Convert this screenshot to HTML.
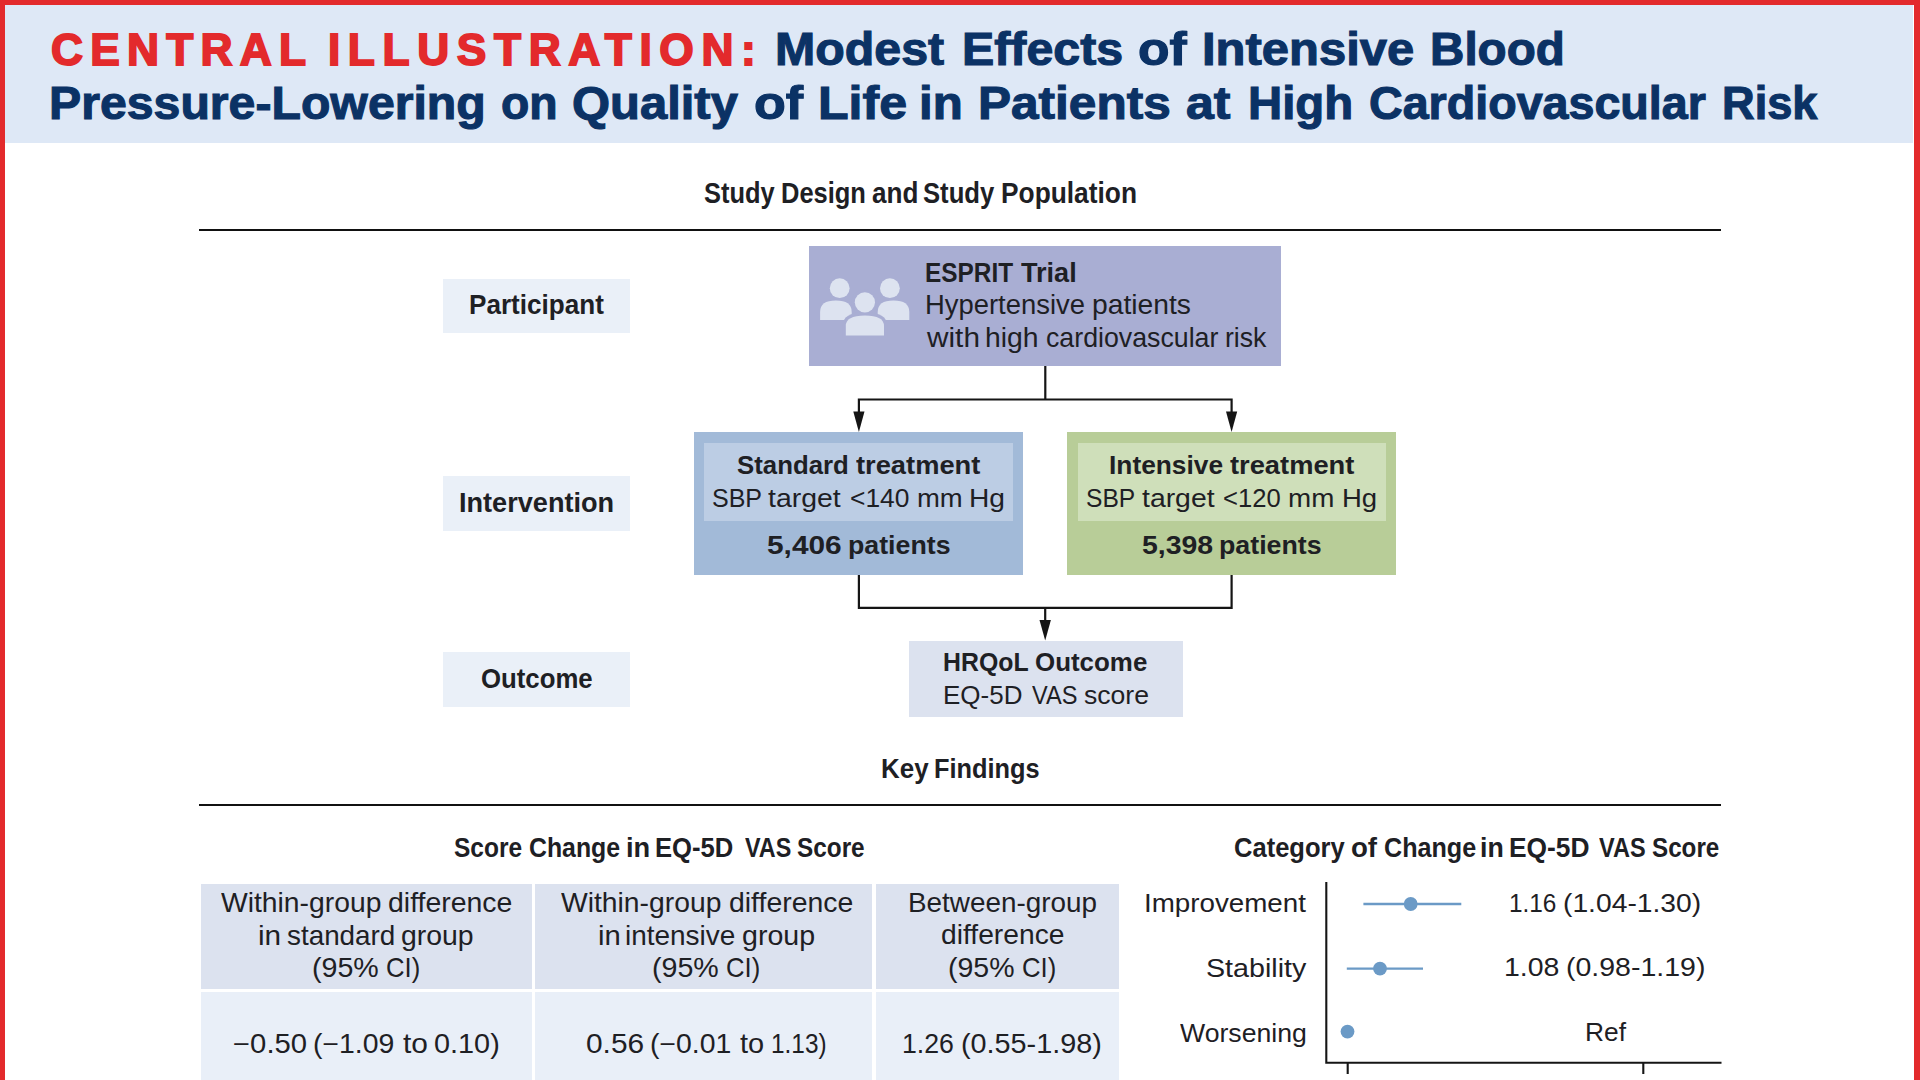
<!DOCTYPE html>
<html><head><meta charset="utf-8"><title>Central Illustration</title>
<style>
html,body{margin:0;padding:0;width:1920px;height:1080px;overflow:hidden;background:#fff}
body{position:relative;font-family:"Liberation Sans",sans-serif}
.t{position:absolute;line-height:1;white-space:nowrap;transform-origin:0 0}
</style></head><body>
<div style="position:absolute;left:0px;top:0px;width:1920px;height:1080px;background:#e32a2c;"></div>
<div style="position:absolute;left:5px;top:5px;width:1909px;height:1075px;background:#ffffff;"></div>
<div style="position:absolute;left:5px;top:5px;width:1908px;height:138px;background:#dee8f6;"></div>
<div style="position:absolute;left:199px;top:229px;width:1522px;height:2px;background:#111111;"></div>
<div style="position:absolute;left:199px;top:804px;width:1522px;height:2px;background:#111111;"></div>
<div style="position:absolute;left:443px;top:279px;width:187px;height:54px;background:#eaf0f8;"></div>
<div style="position:absolute;left:443px;top:476px;width:187px;height:55px;background:#eaf0f8;"></div>
<div style="position:absolute;left:443px;top:651.5px;width:187px;height:55.0px;background:#eaf0f8;"></div>
<div style="position:absolute;left:809px;top:246px;width:472px;height:120px;background:#a9aed3;"></div>
<div style="position:absolute;left:694px;top:432px;width:329px;height:143px;background:#a2bad8;"></div>
<div style="position:absolute;left:704px;top:443px;width:309px;height:78px;background:#bccde4;"></div>
<div style="position:absolute;left:1067px;top:432px;width:329px;height:143px;background:#b8cd98;"></div>
<div style="position:absolute;left:1078px;top:443px;width:308px;height:78px;background:#cfdfba;"></div>
<div style="position:absolute;left:908.5px;top:641px;width:274.0px;height:76px;background:#dce2ef;"></div>
<div style="position:absolute;left:200.5px;top:883.5px;width:331.0px;height:105.0px;background:#dce2ef;"></div>
<div style="position:absolute;left:534.5px;top:883.5px;width:337.5px;height:105.0px;background:#dce2ef;"></div>
<div style="position:absolute;left:875.5px;top:883.5px;width:243.5px;height:105.0px;background:#dce2ef;"></div>
<div style="position:absolute;left:200.5px;top:991.5px;width:331.0px;height:88.5px;background:#e9eff8;"></div>
<div style="position:absolute;left:534.5px;top:991.5px;width:337.5px;height:88.5px;background:#e9eff8;"></div>
<div style="position:absolute;left:875.5px;top:991.5px;width:243.5px;height:88.5px;background:#e9eff8;"></div>
<svg style="position:absolute;left:0;top:0" width="1920" height="1080" viewBox="0 0 1920 1080">
<g stroke="#151515" stroke-width="2.2" fill="none">
<path d="M1045.3 366 V399.5 M858 399.5 H1232.5 M858.9 398.4 V413 M1231.6 398.4 V413"/>
<path d="M858.9 575 V608 M1231.6 575 V608 M857.8 607.9 H1232.7 M1045.2 607 V621"/>
</g>
<g fill="#151515">
<path d="M853.3 411.4 L864.5 411.4 L858.9 432 Z"/>
<path d="M1226 411.4 L1237.2 411.4 L1231.6 432 Z"/>
<path d="M1039.5 620 L1050.9 620 L1045.2 640.6 Z"/>
</g>
<g fill="#dde3f0">
<circle cx="839.7" cy="288.2" r="9.9"/>
<circle cx="889.9" cy="288.2" r="9.9"/>
<path d="M820.1 320 V312 Q820.1 300.6 835.9 300.6 Q851.7 300.6 851.7 312 V320 Z"/>
<path d="M877.7 320 V312 Q877.7 300.6 893.5 300.6 Q909.3 300.6 909.3 312 V320 Z"/>
</g>
<g fill="#a9aed3">
<circle cx="864.9" cy="302.3" r="13.3"/>
<path d="M842.6 338 V326 Q842.6 312.3 864.9 312.3 Q887.2 312.3 887.2 326 V338 Z"/>
</g>
<g fill="#dde3f0">
<circle cx="864.9" cy="302.3" r="10.1"/>
<path d="M845.8 335.6 V326 Q845.8 315.5 864.9 315.5 Q884 315.5 884 326 V335.6 Z"/>
</g>
<g stroke="#151515" stroke-width="2.1" fill="none">
<path d="M1326.3 882 V1062.7 H1721.5"/>
<path d="M1347.7 1062 V1074 M1643.3 1062 V1074"/>
</g>
<g stroke="#6b9ac6" stroke-width="2.4" fill="none">
<path d="M1363.4 904 H1461.3 M1346.8 968.6 H1423"/>
</g>
<g fill="#6b9ac6">
<circle cx="1410.7" cy="904" r="6.9"/>
<circle cx="1380" cy="968.6" r="6.9"/>
<circle cx="1347.5" cy="1031.6" r="6.9"/>
</g>
</svg>
<div class="t" style="left:50.90px;top:28.10px;font-size:44.33px;font-weight:700;color:#e32a2c;letter-spacing:7.242px;-webkit-text-stroke:1.8px #e32a2c">CENTRAL</div>
<div class="t" style="left:327.90px;top:28.10px;font-size:44.33px;font-weight:700;color:#e32a2c;letter-spacing:7.617px;-webkit-text-stroke:1.8px #e32a2c">ILLUSTRATION:</div>
<div class="t" style="left:774.83px;top:27.10px;font-size:45.78px;font-weight:700;color:#0b3265;transform:scaleX(1.0557);-webkit-text-stroke:1.1px #0b3265">Modest</div>
<div class="t" style="left:961.83px;top:27.10px;font-size:45.78px;font-weight:700;color:#0b3265;transform:scaleX(1.0557);-webkit-text-stroke:1.1px #0b3265">Effects</div>
<div class="t" style="left:1137.74px;top:27.10px;font-size:45.78px;font-weight:700;color:#0b3265;transform:scaleX(1.1280);-webkit-text-stroke:1.1px #0b3265">of</div>
<div class="t" style="left:1201.79px;top:27.10px;font-size:45.78px;font-weight:700;color:#0b3265;transform:scaleX(1.0696);-webkit-text-stroke:1.1px #0b3265">Intensive</div>
<div class="t" style="left:1429.88px;top:27.10px;font-size:45.78px;font-weight:700;color:#0b3265;transform:scaleX(1.0403);-webkit-text-stroke:1.1px #0b3265">Blood</div>
<div class="t" style="left:48.85px;top:81.00px;font-size:45.93px;font-weight:700;color:#0b3265;transform:scaleX(1.0500);-webkit-text-stroke:1.1px #0b3265">Pressure-Lowering</div>
<div class="t" style="left:501.48px;top:81.00px;font-size:45.93px;font-weight:700;color:#0b3265;transform:scaleX(1.0098);-webkit-text-stroke:1.1px #0b3265">on</div>
<div class="t" style="left:572.37px;top:81.00px;font-size:45.93px;font-weight:700;color:#0b3265;transform:scaleX(1.0654);-webkit-text-stroke:1.1px #0b3265">Quality</div>
<div class="t" style="left:753.73px;top:81.00px;font-size:45.93px;font-weight:700;color:#0b3265;transform:scaleX(1.1341);-webkit-text-stroke:1.1px #0b3265">of</div>
<div class="t" style="left:817.73px;top:81.00px;font-size:45.93px;font-weight:700;color:#0b3265;transform:scaleX(1.0909);-webkit-text-stroke:1.1px #0b3265">Life</div>
<div class="t" style="left:919.29px;top:81.00px;font-size:45.93px;font-weight:700;color:#0b3265;transform:scaleX(1.0714);-webkit-text-stroke:1.1px #0b3265">in</div>
<div class="t" style="left:977.76px;top:81.00px;font-size:45.93px;font-weight:700;color:#0b3265;transform:scaleX(1.0790);-webkit-text-stroke:1.1px #0b3265">Patients</div>
<div class="t" style="left:1186.41px;top:81.00px;font-size:45.93px;font-weight:700;color:#0b3265;transform:scaleX(1.0897);-webkit-text-stroke:1.1px #0b3265">at</div>
<div class="t" style="left:1247.91px;top:81.00px;font-size:45.93px;font-weight:700;color:#0b3265;transform:scaleX(1.0312);-webkit-text-stroke:1.1px #0b3265">High</div>
<div class="t" style="left:1368.97px;top:81.00px;font-size:45.93px;font-weight:700;color:#0b3265;transform:scaleX(1.0152);-webkit-text-stroke:1.1px #0b3265">Cardiovascular</div>
<div class="t" style="left:1722.05px;top:81.00px;font-size:45.93px;font-weight:700;color:#0b3265;transform:scaleX(0.9840);-webkit-text-stroke:1.1px #0b3265">Risk</div>
<div class="t" style="left:703.51px;top:178.75px;font-size:28.62px;font-weight:700;color:#1e2024;transform:scaleX(0.8891)">Study</div>
<div class="t" style="left:780.72px;top:178.75px;font-size:28.62px;font-weight:700;color:#1e2024;transform:scaleX(0.8902)">Design</div>
<div class="t" style="left:871.59px;top:178.75px;font-size:28.62px;font-weight:700;color:#1e2024;transform:scaleX(0.9115)">and</div>
<div class="t" style="left:922.85px;top:178.75px;font-size:28.62px;font-weight:700;color:#1e2024;transform:scaleX(0.8974)">Study</div>
<div class="t" style="left:1000.66px;top:178.75px;font-size:28.62px;font-weight:700;color:#1e2024;transform:scaleX(0.9201)">Population</div>
<div class="t" style="left:468.80px;top:291.10px;font-size:27.49px;font-weight:700;color:#1e2024;transform:scaleX(0.9493)">Participant</div>
<div class="t" style="left:459.23px;top:489.00px;font-size:27.49px;font-weight:700;color:#1e2024;transform:scaleX(0.9864)">Intervention</div>
<div class="t" style="left:480.87px;top:664.60px;font-size:27.63px;font-weight:700;color:#1e2024;transform:scaleX(0.9322)">Outcome</div>
<div class="t" style="left:925.02px;top:258.80px;font-size:27.35px;font-weight:700;color:#1e2024;transform:scaleX(0.8917)">ESPRIT</div>
<div class="t" style="left:1021.00px;top:258.80px;font-size:27.35px;font-weight:700;color:#1e2024;transform:scaleX(0.9907)">Trial</div>
<div class="t" style="left:924.97px;top:291.00px;font-size:27.07px;font-weight:400;color:#1e2024;transform:scaleX(1.0129)">Hypertensive</div>
<div class="t" style="left:1091.66px;top:291.00px;font-size:27.07px;font-weight:400;color:#1e2024;transform:scaleX(1.0440)">patients</div>
<div class="t" style="left:926.60px;top:323.50px;font-size:27.07px;font-weight:400;color:#1e2024;transform:scaleX(1.1000)">with</div>
<div class="t" style="left:985.41px;top:323.50px;font-size:27.07px;font-weight:400;color:#1e2024;transform:scaleX(1.0468)">high</div>
<div class="t" style="left:1045.61px;top:323.50px;font-size:27.07px;font-weight:400;color:#1e2024;transform:scaleX(0.9879)">cardiovascular</div>
<div class="t" style="left:1224.93px;top:323.50px;font-size:27.07px;font-weight:400;color:#1e2024;transform:scaleX(0.9837)">risk</div>
<div class="t" style="left:736.83px;top:452.40px;font-size:26.65px;font-weight:700;color:#1e2024;transform:scaleX(0.9681)">Standard</div>
<div class="t" style="left:856.10px;top:452.40px;font-size:26.65px;font-weight:700;color:#1e2024;transform:scaleX(1.0240)">treatment</div>
<div class="t" style="left:712.23px;top:485.70px;font-size:25.38px;font-weight:400;color:#1e2024;transform:scaleX(0.9851)">SBP</div>
<div class="t" style="left:768.30px;top:485.70px;font-size:25.38px;font-weight:400;color:#1e2024;transform:scaleX(1.1200)">target</div>
<div class="t" style="left:850.06px;top:485.70px;font-size:25.38px;font-weight:400;color:#1e2024;transform:scaleX(1.0400)">&lt;140</div>
<div class="t" style="left:916.74px;top:485.70px;font-size:25.38px;font-weight:400;color:#1e2024;transform:scaleX(1.0821)">mm</div>
<div class="t" style="left:968.88px;top:485.70px;font-size:25.38px;font-weight:400;color:#1e2024;transform:scaleX(1.1103)">Hg</div>
<div class="t" style="left:767.18px;top:532.40px;font-size:26.65px;font-weight:700;color:#1e2024;transform:scaleX(1.1200)">5,406</div>
<div class="t" style="left:847.99px;top:532.40px;font-size:26.65px;font-weight:700;color:#1e2024;transform:scaleX(1.0040)">patients</div>
<div class="t" style="left:1108.62px;top:452.40px;font-size:26.65px;font-weight:700;color:#1e2024;transform:scaleX(0.9876)">Intensive</div>
<div class="t" style="left:1230.00px;top:452.40px;font-size:26.65px;font-weight:700;color:#1e2024;transform:scaleX(1.0240)">treatment</div>
<div class="t" style="left:1085.86px;top:485.70px;font-size:25.38px;font-weight:400;color:#1e2024;transform:scaleX(0.9681)">SBP</div>
<div class="t" style="left:1141.70px;top:485.70px;font-size:25.38px;font-weight:400;color:#1e2024;transform:scaleX(1.1185)">target</div>
<div class="t" style="left:1222.89px;top:485.70px;font-size:25.38px;font-weight:400;color:#1e2024;transform:scaleX(1.0091)">&lt;120</div>
<div class="t" style="left:1288.41px;top:485.70px;font-size:25.38px;font-weight:400;color:#1e2024;transform:scaleX(1.0949)">mm</div>
<div class="t" style="left:1341.73px;top:485.70px;font-size:25.38px;font-weight:400;color:#1e2024;transform:scaleX(1.0828)">Hg</div>
<div class="t" style="left:1141.73px;top:532.40px;font-size:26.65px;font-weight:700;color:#1e2024;transform:scaleX(1.0677)">5,398</div>
<div class="t" style="left:1219.09px;top:532.40px;font-size:26.65px;font-weight:700;color:#1e2024;transform:scaleX(1.0051)">patients</div>
<div class="t" style="left:943.13px;top:649.25px;font-size:26.65px;font-weight:700;color:#1e2024;transform:scaleX(0.9326)">HRQoL</div>
<div class="t" style="left:1034.93px;top:649.25px;font-size:26.65px;font-weight:700;color:#1e2024;transform:scaleX(0.9728)">Outcome</div>
<div class="t" style="left:942.51px;top:681.50px;font-size:26.08px;font-weight:400;color:#1e2024;transform:scaleX(0.9974)">EQ-5D</div>
<div class="t" style="left:1032.00px;top:681.50px;font-size:26.08px;font-weight:400;color:#1e2024;transform:scaleX(0.9031)">VAS</div>
<div class="t" style="left:1083.68px;top:681.50px;font-size:26.08px;font-weight:400;color:#1e2024;transform:scaleX(1.0194)">score</div>
<div class="t" style="left:880.51px;top:754.80px;font-size:27.49px;font-weight:700;color:#1e2024;transform:scaleX(0.9438)">Key</div>
<div class="t" style="left:933.65px;top:754.80px;font-size:27.49px;font-weight:700;color:#1e2024;transform:scaleX(0.9225)">Findings</div>
<div class="t" style="left:453.73px;top:833.10px;font-size:28.20px;font-weight:700;color:#1e2024;transform:scaleX(0.8688)">Score</div>
<div class="t" style="left:528.92px;top:833.10px;font-size:28.20px;font-weight:700;color:#1e2024;transform:scaleX(0.8814)">Change</div>
<div class="t" style="left:625.57px;top:833.10px;font-size:28.20px;font-weight:700;color:#1e2024;transform:scaleX(0.9667)">in</div>
<div class="t" style="left:655.38px;top:833.10px;font-size:28.20px;font-weight:700;color:#1e2024;transform:scaleX(0.9096)">EQ-5D</div>
<div class="t" style="left:744.60px;top:833.10px;font-size:28.20px;font-weight:700;color:#1e2024;transform:scaleX(0.8291)">VAS</div>
<div class="t" style="left:797.04px;top:833.10px;font-size:28.20px;font-weight:700;color:#1e2024;transform:scaleX(0.8636)">Score</div>
<div class="t" style="left:1233.68px;top:833.80px;font-size:27.63px;font-weight:700;color:#1e2024;transform:scaleX(0.9244)">Category</div>
<div class="t" style="left:1351.00px;top:833.80px;font-size:27.63px;font-weight:700;color:#1e2024;transform:scaleX(1.0000)">of</div>
<div class="t" style="left:1383.59px;top:833.80px;font-size:27.63px;font-weight:700;color:#1e2024;transform:scaleX(0.9101)">Change</div>
<div class="t" style="left:1480.07px;top:833.80px;font-size:27.63px;font-weight:700;color:#1e2024;transform:scaleX(0.9667)">in</div>
<div class="t" style="left:1509.09px;top:833.80px;font-size:27.63px;font-weight:700;color:#1e2024;transform:scaleX(0.9543)">EQ-5D</div>
<div class="t" style="left:1599.20px;top:833.80px;font-size:27.63px;font-weight:700;color:#1e2024;transform:scaleX(0.8519)">VAS</div>
<div class="t" style="left:1652.42px;top:833.80px;font-size:27.63px;font-weight:700;color:#1e2024;transform:scaleX(0.8760)">Score</div>
<div class="t" style="left:221.30px;top:890.00px;font-size:26.79px;font-weight:400;color:#1e2024;transform:scaleX(1.0563)">Within-group</div>
<div class="t" style="left:388.14px;top:890.00px;font-size:26.79px;font-weight:400;color:#1e2024;transform:scaleX(1.0617)">difference</div>
<div class="t" style="left:258.08px;top:922.70px;font-size:26.79px;font-weight:400;color:#1e2024;transform:scaleX(1.1118)">in</div>
<div class="t" style="left:287.26px;top:922.70px;font-size:26.79px;font-weight:400;color:#1e2024;transform:scaleX(1.0396)">standard</div>
<div class="t" style="left:400.64px;top:922.70px;font-size:26.79px;font-weight:400;color:#1e2024;transform:scaleX(1.0606)">group</div>
<div class="t" style="left:312.06px;top:954.70px;font-size:26.79px;font-weight:400;color:#1e2024;transform:scaleX(1.0683)">(95%</div>
<div class="t" style="left:385.74px;top:954.70px;font-size:26.79px;font-weight:400;color:#1e2024;transform:scaleX(0.9576)">CI)</div>
<div class="t" style="left:561.30px;top:890.00px;font-size:26.79px;font-weight:400;color:#1e2024;transform:scaleX(1.0563)">Within-group</div>
<div class="t" style="left:728.64px;top:890.00px;font-size:26.79px;font-weight:400;color:#1e2024;transform:scaleX(1.0609)">difference</div>
<div class="t" style="left:597.51px;top:922.70px;font-size:26.79px;font-weight:400;color:#1e2024;transform:scaleX(1.0941)">in</div>
<div class="t" style="left:625.41px;top:922.70px;font-size:26.79px;font-weight:400;color:#1e2024;transform:scaleX(1.0437)">intensive</div>
<div class="t" style="left:742.23px;top:922.70px;font-size:26.79px;font-weight:400;color:#1e2024;transform:scaleX(1.0667)">group</div>
<div class="t" style="left:652.06px;top:954.70px;font-size:26.79px;font-weight:400;color:#1e2024;transform:scaleX(1.0683)">(95%</div>
<div class="t" style="left:725.74px;top:954.70px;font-size:26.79px;font-weight:400;color:#1e2024;transform:scaleX(0.9576)">CI)</div>
<div class="t" style="left:907.67px;top:889.90px;font-size:26.79px;font-weight:400;color:#1e2024;transform:scaleX(1.0405)">Between-group</div>
<div class="t" style="left:940.85px;top:922.40px;font-size:26.79px;font-weight:400;color:#1e2024;transform:scaleX(1.0539)">difference</div>
<div class="t" style="left:948.47px;top:954.90px;font-size:26.79px;font-weight:400;color:#1e2024;transform:scaleX(1.0633)">(95%</div>
<div class="t" style="left:1022.14px;top:954.90px;font-size:26.79px;font-weight:400;color:#1e2024;transform:scaleX(0.9591)">CI)</div>
<div class="t" style="left:232.66px;top:1031.30px;font-size:26.79px;font-weight:400;color:#1e2024;transform:scaleX(1.0932)">−0.50</div>
<div class="t" style="left:313.18px;top:1031.30px;font-size:26.79px;font-weight:400;color:#1e2024;transform:scaleX(1.0603)">(−1.09</div>
<div class="t" style="left:402.80px;top:1031.30px;font-size:26.79px;font-weight:400;color:#1e2024;transform:scaleX(1.1167)">to</div>
<div class="t" style="left:434.22px;top:1031.30px;font-size:26.79px;font-weight:400;color:#1e2024;transform:scaleX(1.0776)">0.10)</div>
<div class="t" style="left:585.78px;top:1031.30px;font-size:26.79px;font-weight:400;color:#1e2024;transform:scaleX(1.1160)">0.56</div>
<div class="t" style="left:649.88px;top:1031.30px;font-size:26.79px;font-weight:400;color:#1e2024;transform:scaleX(1.0603)">(−0.01</div>
<div class="t" style="left:740.30px;top:1031.30px;font-size:26.79px;font-weight:400;color:#1e2024;transform:scaleX(1.0810)">to</div>
<div class="t" style="left:771.28px;top:1031.30px;font-size:26.79px;font-weight:400;color:#1e2024;transform:scaleX(0.9105)">1.13)</div>
<div class="t" style="left:902.11px;top:1031.20px;font-size:26.79px;font-weight:400;color:#1e2024;transform:scaleX(0.9959)">1.26</div>
<div class="t" style="left:961.15px;top:1031.20px;font-size:26.79px;font-weight:400;color:#1e2024;transform:scaleX(1.0748)">(0.55-1.98)</div>
<div class="t" style="left:1144.17px;top:890.40px;font-size:26.08px;font-weight:400;color:#1e2024;transform:scaleX(1.0640)">Improvement</div>
<div class="t" style="left:1205.60px;top:954.70px;font-size:26.08px;font-weight:400;color:#1e2024;transform:scaleX(1.0989)">Stability</div>
<div class="t" style="left:1180.00px;top:1019.70px;font-size:26.08px;font-weight:400;color:#1e2024;transform:scaleX(1.0211)">Worsening</div>
<div class="t" style="left:1508.53px;top:889.90px;font-size:26.08px;font-weight:400;color:#1e2024;transform:scaleX(0.9333)">1.16</div>
<div class="t" style="left:1562.83px;top:889.90px;font-size:26.08px;font-weight:400;color:#1e2024;transform:scaleX(1.0831)">(1.04-1.30)</div>
<div class="t" style="left:1503.52px;top:954.30px;font-size:26.08px;font-weight:400;color:#1e2024;transform:scaleX(1.0917)">1.08</div>
<div class="t" style="left:1565.61px;top:954.30px;font-size:26.08px;font-weight:400;color:#1e2024;transform:scaleX(1.0927)">(0.98-1.19)</div>
<div class="t" style="left:1584.68px;top:1019.10px;font-size:26.08px;font-weight:400;color:#1e2024;transform:scaleX(1.0103)">Ref</div>
</body></html>
